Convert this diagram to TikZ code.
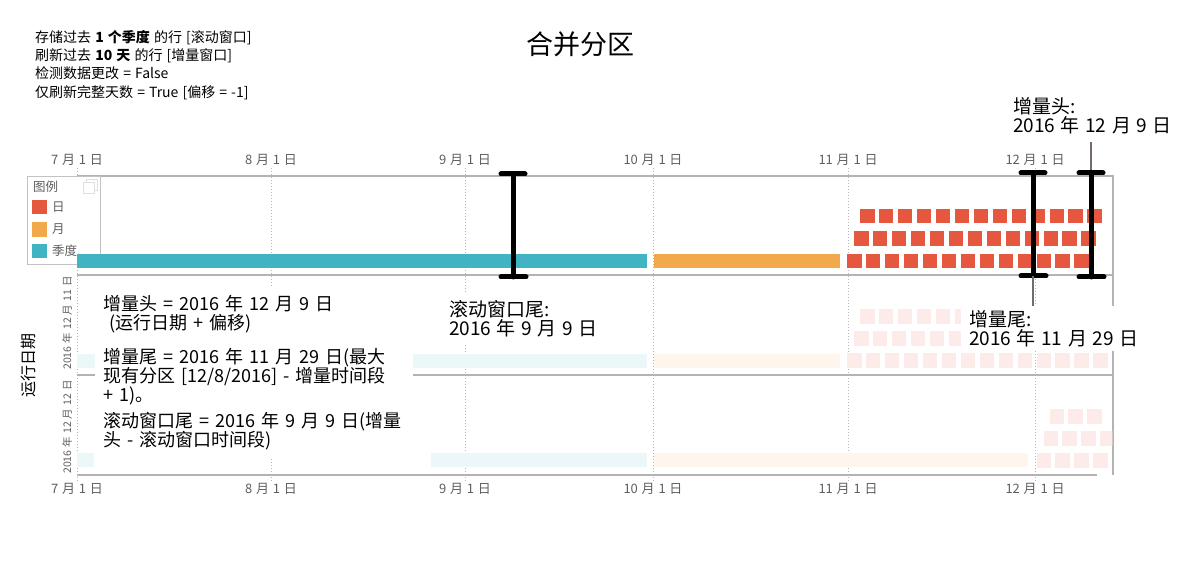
\documentclass[tikz,border=0pt]{standalone}
\usepackage{fontspec}
\setmainfont[WordSpace=1.3]{Noto Sans CJK SC}
\usepackage{tikz}
\usetikzlibrary{positioning}
\definecolor{dayred}{HTML}{E5573F}
\definecolor{monthorange}{HTML}{F1A94C}
\definecolor{quarterteal}{HTML}{42B3C2}
\definecolor{framegray}{HTML}{B3B3B3}
\definecolor{gridgray}{HTML}{B5B5B5}
\definecolor{axistext}{HTML}{5E5E5E}
\definecolor{leadgray}{HTML}{746C6C}
\newcommand{\fsz}[2]{\fontsize{#1}{#2}\selectfont}
% one row of day partitions: colour, first x, top y, first index, last index
\newcommand{\dayrow}[5]{%
  \foreach \i in {#4,...,#5}
    \fill[#1] ({#2+\i*18.95},#3) rectangle ++(14.5,14.5);
}
\tikzset{
  axislabel/.style={font=\fsz{13}{15}, text=axistext, inner sep=0pt},
  rowlabel/.style={font=\fsz{10.5}{12}, text=axistext, inner sep=0pt, rotate=90},
  gridline/.style={gridgray, dotted, line width=1pt},
  frameline/.style={framegray, line width=1.2pt},
  legendtext/.style={font=\fsz{12.5}{14}, text=axistext, inner sep=0pt},
  legendsq/.style={minimum size=14.5pt, inner sep=0pt},
  ibeam/.style={black, line width=5pt, line cap=round},
  leader/.style={leadgray, line width=2.5pt},
  note/.style={font=\fsz{18}{19}, align=left, fill=white, inner xsep=8pt,
    inner ysep=7pt, anchor=north west},
  marklabel/.style={font=\fsz{19}{19.5}, align=left, anchor=north west},
}
\begin{document}
\begin{tikzpicture}[x=1pt, y=-1pt]
  \useasboundingbox (0,0) rectangle (1184,580);

  \node[font=\fsz{14}{18.3}, align=left, anchor=north west, inner sep=0pt] (info) at (35,30)
    {存储过去 \textbf{1 个季度} 的行 [滚动窗口]\\刷新过去 \textbf{10 天} 的行 [增量窗口]\\检测数据更改 = False\\仅刷新完整天数 = True [偏移 = -1]};
  \node[font=\fsz{27}{30}] (title) at (580,44) {合并分区};

  % month grid and axis labels
  \foreach \x/\m in {77/7,271/8,465/9,653/10,848/11,1035/12} {
    \draw[gridline] (\x,168) -- (\x,482);
    \node[axislabel] (top\m) at (\x,160) {\m{} 月 1 日};
    \node[axislabel] (bot\m) at (\x,489) {\m{} 月 1 日};
  }

  % panel frames
  \draw[frameline] (77,176) -- (1113,176) -- (1113,475);
  \foreach \y in {275,375}
    \draw[frameline] (77,\y) -- (1113,\y);
  \draw[frameline] (77,475) -- (1097,475);

  \node[rowlabel] (run11) at (67,323) {2016 年 12 月 11 日};
  \node[rowlabel] (run12) at (67,427) {2016 年 12 月 12 日};
  \node[font=\fsz{16}{18}, rotate=90, inner sep=0pt] (runaxis) at (28,365) {运行日期};

  % legend
  \node[draw=framegray!80, fill=white, minimum width=73pt, minimum height=88pt,
    anchor=north west, inner sep=0pt] (legend) at (27,176) {};
  \node[legendtext, anchor=north west] (legtitle) at (33,181) {图例};
  \draw[gray!25] (86,179) rectangle (97,190);
  \draw[gray!25, fill=white] (83,182) rectangle (94,193);
  \node[legendsq, fill=dayred] (legday) at (39.5,207) {};
  \node[legendsq, fill=monthorange] (legmonth) at (39.5,229.5) {};
  \node[legendsq, fill=quarterteal] (legquarter) at (39.5,251) {};
  \node[legendtext, right=5pt of legday] (legdaytxt) {日};
  \node[legendtext, right=5pt of legmonth] (legmonthtxt) {月};
  \node[legendtext, right=5pt of legquarter] (legquartertxt) {季度};

  \begin{scope}
    \clip (77,176) rectangle (1112.4,475);
    % run on 12/10: current partitions
    \fill[quarterteal] (77,254) rectangle (647,268);
    \fill[monthorange] (654,254) rectangle (840,268);
    \dayrow{dayred}{847}{254}{0}{12}
    \dayrow{dayred}{854}{231.5}{0}{12}
    \dayrow{dayred}{860}{209}{0}{12}
    % run on 12/11
    \fill[quarterteal!10] (77,353.5) rectangle (647,367.5);
    \fill[monthorange!10] (654,353.5) rectangle (840,367.5);
    \dayrow{dayred!12}{847}{353}{0}{13}
    \dayrow{dayred!12}{854}{331}{0}{12}
    \dayrow{dayred!12}{860}{309}{0}{12}
    % run on 12/12
    \fill[monthorange!10] (654,453) rectangle (1028,467);
    \dayrow{dayred!12}{847}{453}{10}{13}
    \dayrow{dayred!12}{854}{431}{10}{13}
    \dayrow{dayred!12}{860}{409}{10}{12}
  \end{scope}

  % window markers
  \foreach \n/\x/\t/\b in {rw/513/174/277, it/1033/173/276, ih/1091/173/277} {
    \coordinate (\n-top) at (\x,\t);
    \coordinate (\n-bot) at (\x,\b);
  }
  \node[marklabel, inner sep=0pt] (headlabel) at (1013,97) {增量头:\\2016 年 12 月 9 日};
  \draw[leader] ([yshift=-8pt]headlabel.south -| ih-top) -- (ih-top);
  \foreach \n in {rw,it,ih} {
    \draw[ibeam] (\n-top) -- (\n-bot);
    \draw[ibeam] ([xshift=-12pt]\n-top) -- ([xshift=12pt]\n-top);
    \draw[ibeam] ([xshift=-12pt]\n-bot) -- ([xshift=13pt]\n-bot);
  }

  % notes
  \node[note, text width=302pt] (headnote) at (95,288)
    {增量头 = 2016 年 12 月 9 日\\\ (运行日期 + 偏移)};
  \node[note, text width=302pt] (tailnote) at (95,341)
    {增量尾 = 2016 年 11 月 29 日(最大\\现有分区 [12/8/2016] - 增量时间段\\+ 1)。};
  \node[note, text width=320pt] (rollnote) at (95,405)
    {滚动窗口尾 = 2016 年 9 月 9 日(增量\\头 - 滚动窗口时间段)};
  \fill[quarterteal!10] (77,453) rectangle (94,467);
  \fill[quarterteal!10] (431,453) rectangle (647,467);

  \node[marklabel, fill=white, inner xsep=6pt, inner ysep=6pt] (rolllabel) at (443,294)
    {滚动窗口尾:\\2016 年 9 月 9 日};
  \node[marklabel, fill=white, inner xsep=8pt, inner ysep=4pt] (taillabel) at (961,306)
    {增量尾:\\2016 年 11 月 29 日};
  \draw[leader] (it-bot) -- (it-bot |- taillabel.north);
\end{tikzpicture}
\end{document}
